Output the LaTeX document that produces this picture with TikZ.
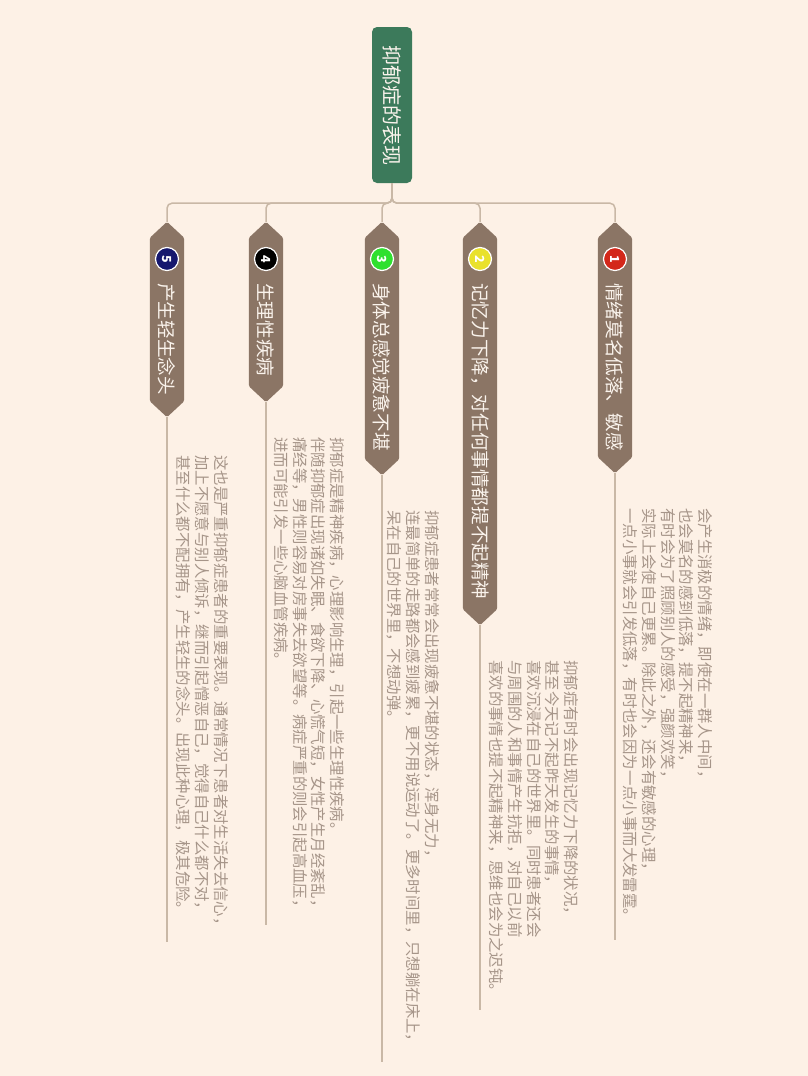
\documentclass[tikz,border=0pt]{standalone}
\usepackage{fontspec}
\setmainfont{Noto Sans CJK SC}
\usetikzlibrary{calc}
\definecolor{bgcol}{HTML}{FDF1E6}
\definecolor{rootcol}{HTML}{3C7A5B}
\definecolor{brcol}{HTML}{8B7565}
\definecolor{conncol}{HTML}{C9B8A6}
\definecolor{detcol}{HTML}{A69589}
\definecolor{lightcol}{HTML}{FAF3EC}
\definecolor{bred}{HTML}{D3271A}
\definecolor{byellow}{HTML}{E9E12C}
\definecolor{bgreen}{HTML}{2FE02F}
\definecolor{bblack}{HTML}{000000}
\definecolor{bnavy}{HTML}{16186E}
\newcommand\brhex[1]{\fill[brcol, rounded corners=1.5pt] (#1.north) -- ($(#1.north east)+(0,16)$) -- ($(#1.south east)+(0,-16)$) -- (#1.south) -- ($(#1.south west)+(0,-16)$) -- ($(#1.north west)+(0,16)$) -- cycle;}
\begin{document}
\begin{tikzpicture}[x=1pt,y=-1pt,
  conn/.style={draw=conncol, line width=1.5pt},
  rootbox/.style={fill=rootcol, rounded corners=5pt, minimum width=40pt, minimum height=156pt, inner sep=0pt, text=lightcol, font=\fontsize{20}{22}\selectfont},
  brbody/.style={minimum width=34pt, inner sep=0pt},
  brtitle/.style={rotate=-90, anchor=west, inner sep=0pt, text=lightcol, font=\fontsize{18.6}{20}\selectfont},
  badge/.style={circle, draw=white, line width=1.2pt, minimum size=23pt, inner sep=0pt, text=white, font=\bfseries\fontsize{12.5}{13}\selectfont},
  detail/.style={rotate=-90, anchor=south west, align=left, inner sep=0pt, text=detcol, font=\fontsize{15.4}{18.6}\selectfont}
]
\useasboundingbox[fill=bgcol] (0,0) rectangle (808,1076);

% root
\node[rootbox] (root) at (392,105) {\rotatebox{-90}{抑郁症的表现}};

% branch bodies
\node[brbody, minimum height=251pt] (b1) at (615,347.5) {};
\node[brbody, minimum height=403pt] (b2) at (480,423.5) {};
\node[brbody, minimum height=253pt] (b3) at (382,348.5) {};
\node[brbody, minimum height=180pt] (b4) at (266,312) {};
\node[brbody, minimum height=195pt] (b5) at (167,319.5) {};

% connectors root -> branches
\foreach \b in {b1,b2,b3,b4,b5}{
  \draw[conn, rounded corners=5pt] (root.south) -- ++(0,20) -| (\b.north);
}

\brhex{b1}\brhex{b2}\brhex{b3}\brhex{b4}\brhex{b5}

% badges
\node[badge, fill=bred] (k1) at (615,259) {\rotatebox{-90}{1}};
\node[badge, fill=byellow] (k2) at (480,259) {\rotatebox{-90}{2}};
\node[badge, fill=bgreen] (k3) at (382,259) {\rotatebox{-90}{3}};
\node[badge, fill=bblack] (k4) at (266,259) {\rotatebox{-90}{4}};
\node[badge, fill=bnavy] (k5) at (167,259) {\rotatebox{-90}{5}};

% titles
\node[brtitle] (t1) at (615,283) {情绪莫名低落、敏感};
\node[brtitle] (t2) at (480,283) {记忆力下降，对任何事情都提不起精神};
\node[brtitle] (t3) at (382,283) {身体总感觉疲惫不堪};
\node[brtitle] (t4) at (266,283) {生理性疾病};
\node[brtitle] (t5) at (167,283) {产生轻生念头};

% detail lines
\coordinate (e1) at (615,940);
\coordinate (e2) at (480,1010);
\coordinate (e3) at (382,1062);
\coordinate (e4) at (266,925);
\coordinate (e5) at (167,942);
\draw[conn] (b1.south) -- (e1);
\draw[conn] (b2.south) -- (e2);
\draw[conn] (b3.south) -- (e3);
\draw[conn] (b4.south) -- (e4);
\draw[conn] (b5.south) -- (e5);

% detail texts
\node[detail] (d1) at (623,508) {会产生消极的情绪，即使在一群人中间，\\也会莫名的感到低落，提不起精神来，\\有时会为了照顾别人的感受，强颜欢笑，\\实际上会使自己更累。除此之外，还会有敏感的心理，\\一点小事就会引发低落，有时也会因为一点小事而大发雷霆。};
\node[detail] (d2) at (489,660) {抑郁症有时会出现记忆力下降的状况，\\甚至今天记不起昨天发生的事情，\\喜欢沉浸在自己的世界里。同时患者还会\\与周围的人和事情产生抗拒，对自己以前\\喜欢的事情也提不起精神来，思维也会为之迟钝。};
\node[detail] (d3) at (387,510) {抑郁症患者常常会出现疲惫不堪的状态，浑身无力，\\连最简单的走路都会感到疲累，更不用说运动了。更多时间里，只想躺在床上，\\呆在自己的世界里，不想动弹。};
\node[detail] (d4) at (274,437) {抑郁症是精神疾病，心理影响生理，引起一些生理性疾病。\\伴随抑郁症出现诸如失眠、食欲下降、心慌气短，女性产生月经紊乱，\\痛经等，男性则容易对房事失去欲望等。病症严重的则会引起高血压，\\进而可能引发一些心脑血管疾病。};
\node[detail] (d5) at (176,455) {这也是严重抑郁症患者的重要表现。通常情况下患者对生活失去信心，\\加上不愿意与别人倾诉，继而引起憎恶自己，觉得自己什么都不对，\\甚至什么都不配拥有，产生轻生的念头。出现此种心理，极其危险。};
\end{tikzpicture}
\end{document}
